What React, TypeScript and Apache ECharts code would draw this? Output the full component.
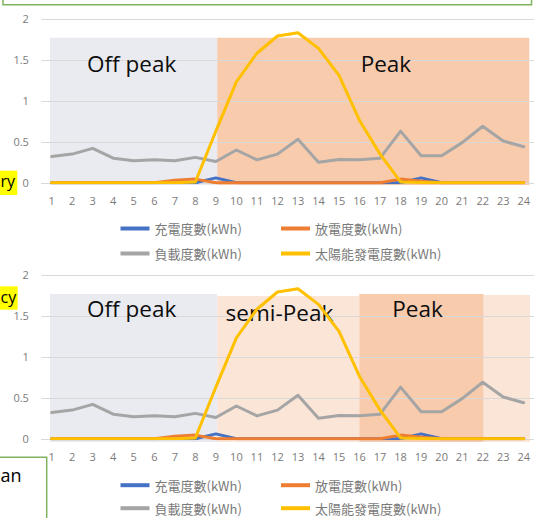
import React, { useEffect, useRef } from "react";
import * as echarts from "echarts";

// ---- data ----
const hours = ["1","2","3","4","5","6","7","8","9","10","11","12","13","14","15","16","17","18","19","20","21","22","23","24"];
const chargeKWh = [0,0,0,0,0,0,0,0,0.06,0,0,0,0,0,0,0,0,0,0.06,0,0,0,0,0];
const dischargeKWh = [0,0,0,0,0,0,0.03,0.045,0,0,0,0,0,0,0,0,0,0.045,0.02,0,0,0,0,0];
const loadKWh = [0.32,0.35,0.42,0.30,0.27,0.28,0.27,0.31,0.26,0.40,0.28,0.35,0.53,0.25,0.285,0.28,0.30,0.63,0.33,0.33,0.49,0.69,0.51,0.44];
const solarKWh = [0,0,0,0,0,0,0,0.01,0.63,1.23,1.58,1.79,1.83,1.64,1.31,0.76,0.35,0.01,0.005,0,0,0,0,0];
const yMin = 0;
const yMax = 2;
const yStep = 0.5;
const seriesNames = ["充電度數(kWh)", "放電度數(kWh)", "負載度數(kWh)", "太陽能發電度數(kWh)"];
const seriesValues = [chargeKWh, dischargeKWh, loadKWh, solarKWh];
const seriesColors = ["#4472C4", "#ED7D31", "#A5A5A5", "#FFC000"];
const zoneLabelsTop = ["Off peak", "Peak"];
const zoneLabelsBottom = ["Off peak", "semi-Peak", "Peak"];
const sideTexts = ["ry", "cy", "an"];

const FONT = "'Open Sans', 'Liberation Sans', sans-serif";
const CJK = "'Noto Sans CJK TC', 'Noto Sans', sans-serif";

const grids = [
  { left: 41.4, top: 18.8, width: 496, height: 164 },
  { left: 41.4, top: 274.8, width: 496, height: 164 },
];

// legend placement per chart: [left, centerY] for each series
const legendPos = [
  [[120.5, 229], [281, 229], [120.5, 254], [281, 254]],
  [[120.5, 485.7], [281, 485.7], [120.5, 508.7], [281, 508.7]],
];

function zoneText(text: string, x: number, y: number) {
  return {
    type: "text",
    x,
    y,
    z: 1,
    style: { text, fill: "#0D0D0D", font: `22.5px ${FONT}`, textAlign: "left", textVerticalAlign: "middle" },
  };
}

function rect(x: number, y: number, w: number, h: number, fill: string) {
  return { type: "rect", z: -1, shape: { x, y, width: w, height: h }, style: { fill } };
}

export default function App() {
  const ref = useRef<HTMLDivElement>(null);
  useEffect(() => {
    if (!ref.current) return;
    const chart = echarts.init(ref.current, undefined, { renderer: "svg" });

    const xAxis = grids.map((_, i) => ({
      type: "category",
      gridIndex: i,
      data: hours,
      boundaryGap: true,
      axisLine: { lineStyle: { color: "#D9D9D9", width: 1 } },
      axisTick: { show: false },
      axisLabel: { color: "#7A7A7A", fontSize: 11, fontFamily: FONT, margin: 12, interval: 0 },
    }));
    const yAxis = grids.map((_, i) => ({
      type: "value",
      gridIndex: i,
      min: yMin,
      max: yMax,
      interval: yStep,
      axisLine: { show: false },
      axisTick: { show: false },
      splitLine: { lineStyle: { color: "#D9D9D9", width: 1 } },
      axisLabel: { color: "#7A7A7A", fontSize: 11, fontFamily: FONT, margin: 12.5 },
    }));

    const series: any[] = [];
    grids.forEach((_, g) => {
      seriesNames.forEach((name, k) => {
        series.push({
          type: "line",
          name,
          xAxisIndex: g,
          yAxisIndex: g,
          data: seriesValues[k],
          color: seriesColors[k],
          symbol: "none",
          showSymbol: false,
          z: 2 + k,
          lineStyle: { width: 3, color: seriesColors[k], join: "round", cap: "round" },
        });
      });
    });

    const legend: any[] = [];
    legendPos.forEach((chartPos) => {
      chartPos.forEach(([left, cy], k) => {
        legend.push({
          data: [seriesNames[k]],
          left,
          top: cy - 7,
          icon: "rect",
          itemWidth: 29,
          itemHeight: 4,
          padding: 0,
          textStyle: { color: "#7A7A7A", fontSize: 13, fontFamily: CJK },
        });
      });
    });

    const graphic: any[] = [
      // top chart zones
      rect(50, 37.7, 167.2, 147.3, "#E9EBF0"),
      rect(217.2, 37.7, 312.1, 147.3, "#F8CBAD"),
      zoneText(zoneLabelsTop[0], 87, 63),
      zoneText(zoneLabelsTop[1], 360.7, 63),
      // bottom chart zones
      rect(50, 294, 167.2, 148, "#E9EBF0"),
      rect(217.2, 296, 142.1, 146, "#FBE5D6"),
      rect(359.3, 294, 124.4, 148, "#F8CBAD"),
      rect(483.7, 295, 46.3, 147, "#FBE5D6"),
      zoneText(zoneLabelsBottom[0], 87, 308.3),
      zoneText(zoneLabelsBottom[1], 225.6, 312),
      zoneText(zoneLabelsBottom[2], 392.3, 308),
      // slide fragments
      { type: "rect", z: 5, shape: { x: 3, y: -10, width: 528.5, height: 14.7 }, style: { fill: "none", stroke: "#7FB35D", lineWidth: 1.5 } },
      { type: "rect", z: 5, shape: { x: 0, y: 170.7, width: 17.3, height: 24.3 }, style: { fill: "#FFFF00" } },
      { type: "text", z: 6, x: 0.5, y: 181.3, style: { text: sideTexts[0], fill: "#000", font: `16px ${FONT}`, textAlign: "left", textVerticalAlign: "middle" } },
      { type: "rect", z: 5, shape: { x: 0, y: 286.3, width: 17.7, height: 23.4 }, style: { fill: "#FFFF00" } },
      { type: "text", z: 6, x: 0.5, y: 297.3, style: { text: sideTexts[1], fill: "#000", font: `16px ${FONT}`, textAlign: "left", textVerticalAlign: "middle" } },
      { type: "rect", z: 5, shape: { x: -10, y: 457.3, width: 56.7, height: 80 }, style: { fill: "none", stroke: "#7FB35D", lineWidth: 1.5 } },
      { type: "text", z: 6, x: 0.5, y: 475.3, style: { text: sideTexts[2], fill: "#000", font: `18px ${FONT}`, textAlign: "left", textVerticalAlign: "middle" } },
    ];

    chart.setOption({
      animation: false,
      backgroundColor: "#fff",
      textStyle: { fontFamily: FONT },
      grid: grids,
      xAxis,
      yAxis,
      series,
      legend,
      graphic,
    });
    return () => chart.dispose();
  }, []);

  return (
    <div
      ref={ref}
      style={{ position: "fixed", left: 0, top: 0, width: 534, height: 518, background: "#fff" }}
    />
  );
}
